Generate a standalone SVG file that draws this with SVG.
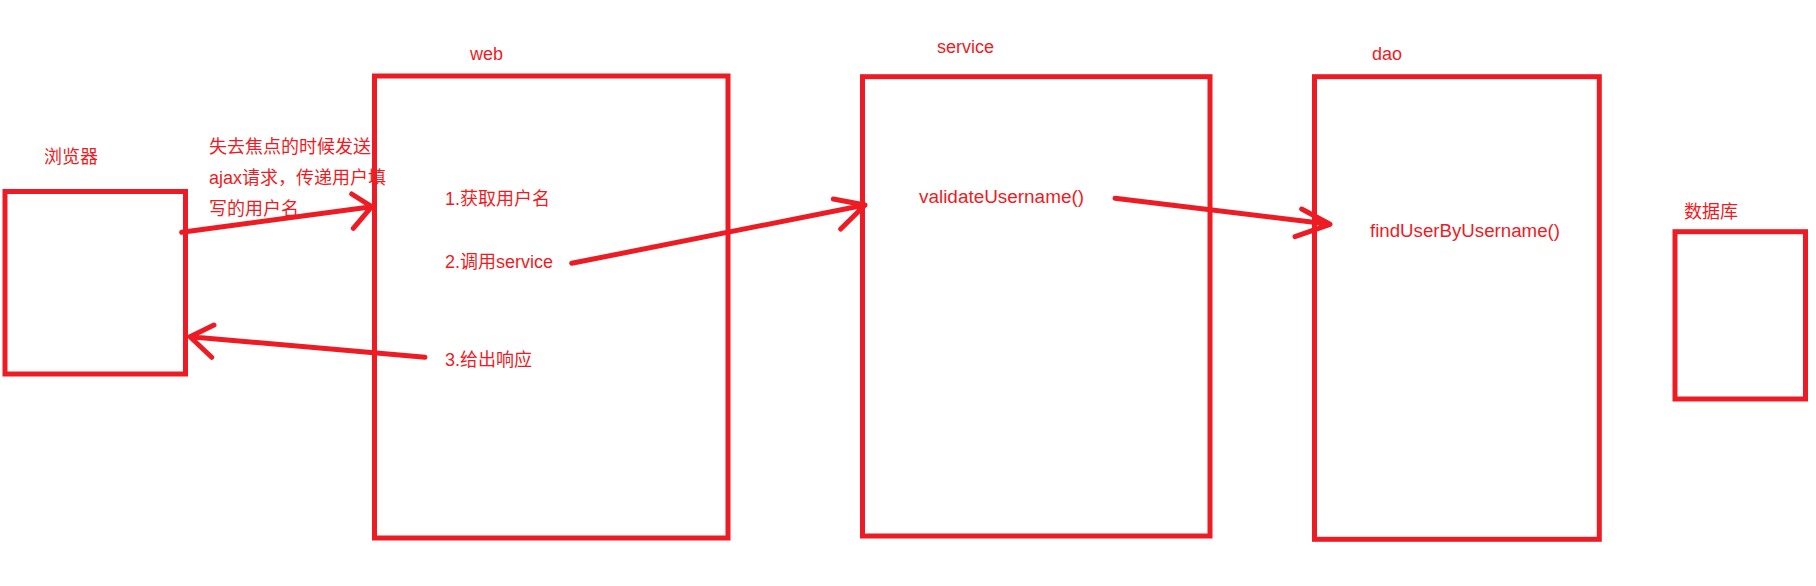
<svg xmlns="http://www.w3.org/2000/svg" width="1816" height="586" viewBox="0 0 1816 586">
<style>
.box{fill:none;stroke:#ed1c24;stroke-width:5}
.t{fill:#ed1c24;font-family:"Liberation Sans","Noto Sans CJK SC",sans-serif;font-size:18px}
.c{fill:none;stroke:#ed1c24;stroke-width:5;stroke-linecap:round;stroke-linejoin:round}
</style>
<rect width="1816" height="586" fill="#fff"/>
<g id="browser">
<rect class="box" x="5" y="191.5" width="180.5" height="182.5"/>
<text class="t" x="44" y="163">浏览器</text>
</g>
<g id="web">
<rect class="box" x="374.5" y="76" width="353.5" height="462"/>
<text class="t" x="470" y="60">web</text>
<text class="t" x="445" y="205">1.获取用户名</text>
<text class="t" x="445" y="268">2.调用service</text>
<text class="t" x="445" y="366">3.给出响应</text>
</g>
<g id="service">
<rect class="box" x="862.5" y="76.7" width="347.5" height="459.3"/>
<text class="t" x="937" y="53">service</text>
<text class="t" x="919" y="203" textLength="165" lengthAdjust="spacingAndGlyphs">validateUsername()</text>
</g>
<g id="dao">
<rect class="box" x="1314.5" y="76.7" width="284.8" height="462.6"/>
<text class="t" x="1372" y="60">dao</text>
<text class="t" x="1370" y="237" textLength="190" lengthAdjust="spacingAndGlyphs">findUserByUsername()</text>
</g>
<g id="database">
<rect class="box" x="1675" y="231.7" width="130.5" height="167.3"/>
<text class="t" x="1684" y="218">数据库</text>
</g>
<g id="connectors">
<path class="c" d="M181.7,232.3 L371.7,206.7 M351.7,194 L371.7,206.7 L353.3,228.3"/>
<text class="t" x="209" y="153">失去焦点的时候发送</text>
<text class="t" x="209" y="184">ajax请求，传递用户填</text>
<text class="t" x="209" y="215">写的用户名</text>
<path class="c" d="M425,357.3 L190,336.7 M214,325 L190,336.7 L211.7,357.3"/>
<path class="c" d="M571.7,263.3 L865,205 M833.3,199 L865,205 L840.7,229"/>
<path class="c" d="M1115,198.3 L1330,224.3 M1301.7,209 L1330,224.3 L1295,236.7"/>
</g>
</svg>
